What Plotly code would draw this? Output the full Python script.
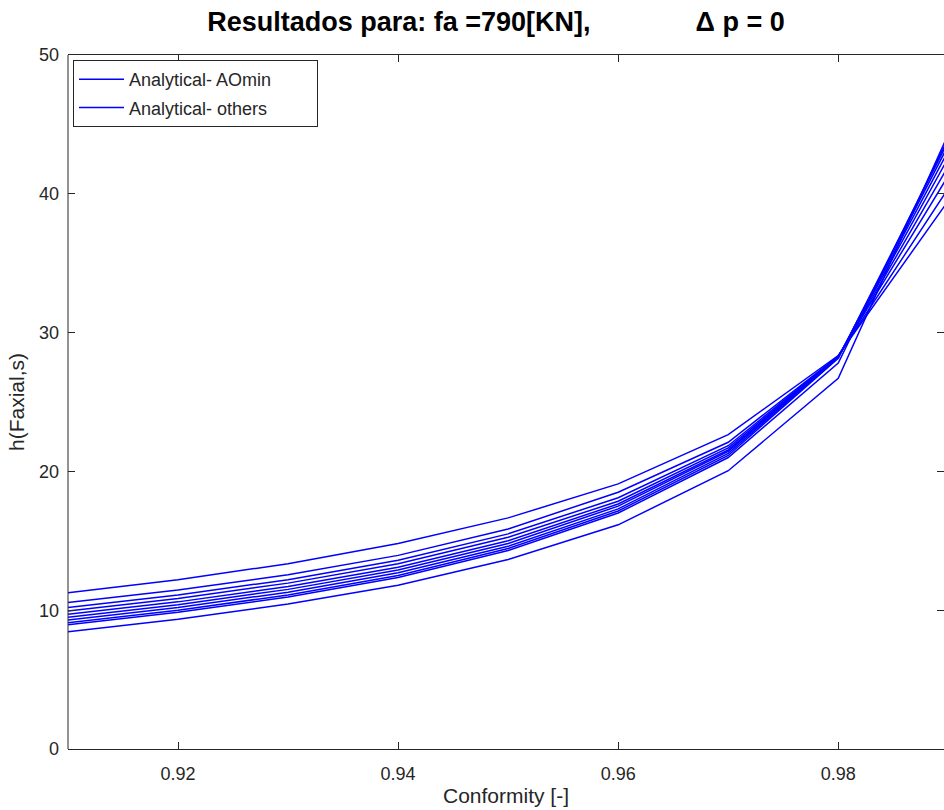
import plotly.graph_objects as go

conformity = [0.91, 0.92, 0.93, 0.94, 0.95, 0.96, 0.97, 0.98, 0.99]

h_aomin = [11.25, 12.2, 13.35, 14.8, 16.65, 19.1, 22.65, 28.35, 39.5]
h_others = [
    [10.55, 11.45, 12.55, 13.95, 15.85, 18.5, 22.1, 28.3, 40.4],
    [10.2, 11.1, 12.2, 13.6, 15.5, 18.1, 21.85, 28.3, 41.3],
    [9.95, 10.85, 11.95, 13.35, 15.25, 17.85, 21.7, 28.25, 42.0],
    [9.7, 10.6, 11.7, 13.1, 15.0, 17.65, 21.55, 28.25, 42.6],
    [9.5, 10.4, 11.5, 12.9, 14.8, 17.5, 21.45, 28.2, 43.1],
    [9.3, 10.2, 11.3, 12.7, 14.6, 17.3, 21.3, 28.2, 43.5],
    [9.1, 10.0, 11.1, 12.5, 14.45, 17.15, 21.15, 28.15, 43.8],
    [8.95, 9.85, 10.95, 12.35, 14.3, 17.0, 21.0, 27.8, 44.0],
    [8.45, 9.35, 10.45, 11.8, 13.65, 16.15, 20.05, 26.7, 44.3],
]

x_ticks = [0.92, 0.94, 0.96, 0.98]
y_ticks = [0, 10, 20, 30, 40, 50]

FONT = "Liberation Sans, Arial, Helvetica, sans-serif"
AX = "#262626"
BLUE = "#0000FF"
NB = "\u00a0"

fig = go.Figure()
fig.add_trace(go.Scatter(
    x=conformity, y=h_aomin, mode="lines",
    line=dict(color=BLUE, width=1.5),
    name="Analytical- AOmin" + NB * 8, legendgroup="a",
))
for i, ys in enumerate(h_others):
    fig.add_trace(go.Scatter(
        x=conformity, y=ys, mode="lines",
        line=dict(color=BLUE, width=1.5),
        name="Analytical- others" + NB * 8, legendgroup="b",
        showlegend=(i == 0),
    ))

fig.update_layout(
    width=944, height=810,
    margin=dict(l=68, r=0, t=55, b=61),
    paper_bgcolor="white", plot_bgcolor="white",
    font=dict(family=FONT, color=AX, size=18),
    title=dict(
        text="<b>Resultados para: fa =790[KN]," + NB * 14 + "Δ p = 0</b>",
        x=496 / 944, xref="container", xanchor="center",
        y=1 - 22 / 810, yref="container", yanchor="middle",
        font=dict(size=27, color="black", family=FONT),
    ),
    showlegend=True,
    legend=dict(
        x=5 / 876, y=1 - 5 / 694, xanchor="left", yanchor="top",
        bgcolor="white", bordercolor="#262626", borderwidth=1,
        font=dict(size=18, color="#262626", family=FONT),
        traceorder="grouped", tracegroupgap=2, itemwidth=45,
    ),
    xaxis=dict(
        range=[0.91, 0.98961], tickvals=x_ticks,
        ticktext=[f"{v:.2f}" for v in x_ticks],
        ticks="inside", ticklen=7, tickcolor=AX, tickwidth=1,
        showline=True, linecolor=AX, linewidth=1, mirror="ticks",
        showgrid=False, zeroline=False,
        ticklabelstandoff=8,
        tickfont=dict(size=18, color=AX),
        title=dict(text="Conformity [-]", font=dict(size=21, color=AX), standoff=5),
    ),
    yaxis=dict(
        range=[0, 50], tickvals=y_ticks,
        ticks="inside", ticklen=7, tickcolor=AX, tickwidth=1,
        showline=False, mirror="ticks",
        showgrid=False, zeroline=False,
        ticklabelstandoff=8,
        tickfont=dict(size=18, color=AX),
        title=dict(text="h(Faxial,s)", font=dict(size=21, color=AX), standoff=8),
    ),
    shapes=[
        dict(type="line", xref="paper", yref="paper", x0=0, x1=0, y0=0, y1=1,
             line=dict(color=AX, width=1)),
    ],
)

fig.write_html("out.html")
